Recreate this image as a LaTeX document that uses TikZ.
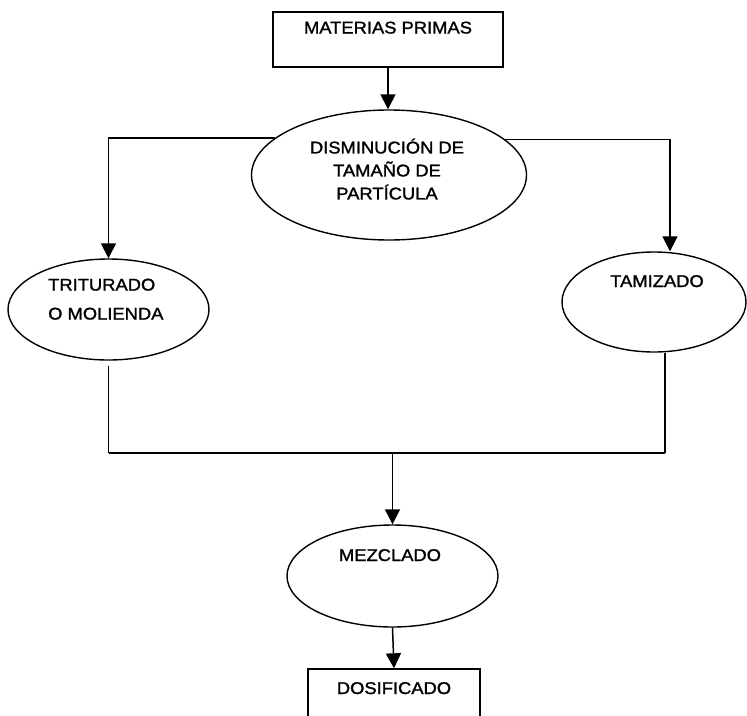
\documentclass[tikz,border=0pt]{standalone}
\usepackage{fontspec}
\setmainfont[FakeStretch=1.08,FakeBold=1.4]{Liberation Sans}
\usetikzlibrary{shapes.geometric,arrows.meta}
\begin{document}
\begin{tikzpicture}[x=1pt,y=-1pt,
  every node/.style={inner sep=0pt},
  proc/.style={draw, line width=1.4pt},
  oval/.style={ellipse, draw, line width=1.4pt},
  lbl/.style={font=\fontsize{17}{23}\selectfont, anchor=base},
  wire/.style={line width=1.5pt},
  bar/.style={line width=2.4pt},
  arr/.style={wire, -{Triangle[width=15pt,length=15pt]}}]
\useasboundingbox (0,0) rectangle (747,715);
\clip (0,0) rectangle (747,715);

% process shapes
\node[proc, minimum width=230pt, minimum height=55pt] (mp) at (388,39.5) {};
\node[oval, minimum width=275pt, minimum height=130pt] (dis) at (389,175) {};
\node[oval, minimum width=201pt, minimum height=101pt] (tri) at (108.5,309.5) {};
\node[oval, minimum width=184pt, minimum height=100pt] (tam) at (654,302) {};
\node[oval, minimum width=211pt, minimum height=102pt] (mez) at (392.5,576) {};
\node[proc, minimum width=172pt, minimum height=60pt] (dos) at (394,699) {};

% labels
\node[lbl] (mpt) at (388,33.5) {MATERIAS PRIMAS};
\node[lbl, align=center, anchor=north, font=\fontsize{17}{23}\selectfont] (dist) at (387,138.5)
  {DISMINUCIÓN DE\\TAMAÑO DE\\PARTÍCULA};
\node[lbl, align=left, anchor=north west, font=\fontsize{17}{29}\selectfont] (trit) at (48,278.5)
  {TRITURADO\\O MOLIENDA};
\node[lbl] (tamt) at (657,287) {TAMIZADO};
\node[lbl] (mezt) at (390,561) {MEZCLADO};
\node[lbl] (dost) at (394,694) {DOSIFICADO};

% connectors
\coordinate (tamin) at ([xshift=16pt]tam.north);
\coordinate (triout) at ([yshift=-5pt]tri.south);
\coordinate (tamout) at ([xshift=11pt]tam.south);
\coordinate (hbar) at (0,453);
\coordinate (join) at (mez.north |- hbar);

\draw[arr] (mp.south) -- (mp.south |- dis.north);
\draw[arr] (dis.162.5) -| (tri.north);
\draw[arr] (dis.17.5) -| (tamin);
\draw[wire] (triout) -- (triout |- hbar);
\draw[wire] (tamout) -- (tamout |- hbar);
\draw[bar] (triout |- hbar) -- (tamout |- hbar);
\draw[arr] (join) -- (mez.north);
\draw[arr] (mez.south) -- (dos.north);
\end{tikzpicture}
\end{document}
